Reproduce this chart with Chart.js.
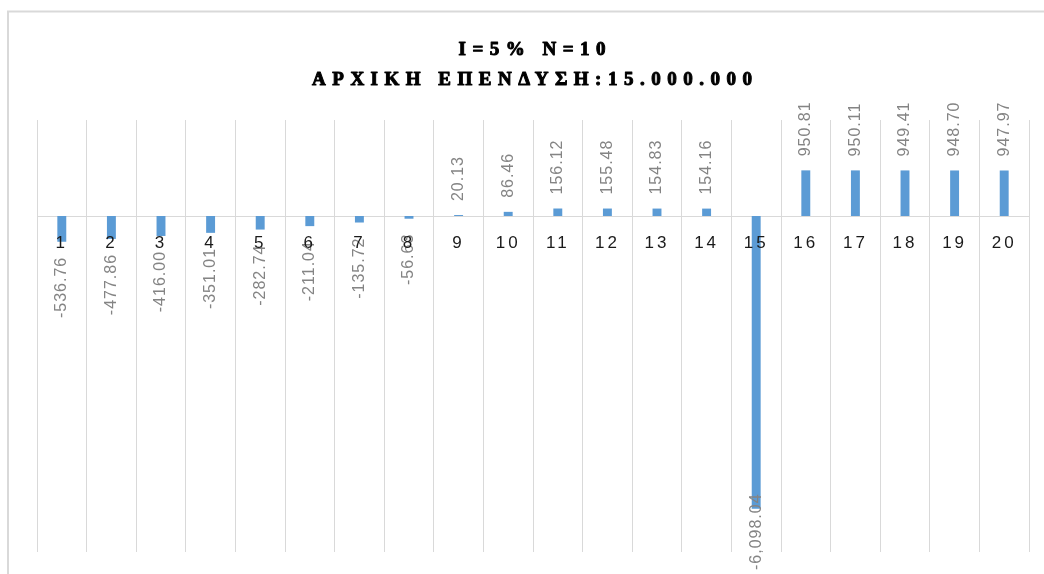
<!DOCTYPE html>
<html>
<head>
<meta charset="utf-8">
<script src="https://cdn.jsdelivr.net/npm/chart.js@4/dist/chart.umd.min.js"></script>
<style>
  html, body { margin: 0; padding: 0; background: #ffffff; }
  #wrap { width: 1044px; height: 574px; position: relative; }
</style>
</head>
<body>
<div id="wrap"><canvas id="c" width="1044" height="574"></canvas></div>
<script>
// Chart title lines
const titleLines = ['I=5% N=10', 'ΑΡΧΙΚΗ ΕΠΕΝΔΥΣΗ:15.000.000'];

// Periods (category axis)
const periods = ['1', '2', '3', '4', '5', '6', '7', '8', '9', '10',
                 '11', '12', '13', '14', '15', '16', '17', '18', '19', '20'];

// Yearly values
const values = [-536.76, -477.86, -416.00, -351.01, -282.74, -211.04, -135.72, -56.63,
                20.13, 86.46, 156.12, 155.48, 154.83, 154.16,
                -6098.04, 950.81, 950.11, 949.41, 948.70, 947.97];

const BAR_COLOR = '#5B9BD5';
const GRID_COLOR = '#d9d9d9';

function fmt(v) {
  return v.toLocaleString('en-US', { minimumFractionDigits: 2, maximumFractionDigits: 2 });
}

// Outer frame and spaced title
const framePlugin = {
  id: 'frame',
  beforeDraw(chart) {
    const ctx = chart.ctx;
    ctx.save();
    ctx.strokeStyle = '#d9d9d9';
    ctx.lineWidth = 2;
    ctx.beginPath();
    ctx.moveTo(8, chart.height);
    ctx.lineTo(8, 11.5);
    ctx.lineTo(chart.width, 11.5);
    ctx.stroke();
    ctx.restore();
    // category labels are drawn with extra tracking
    ctx.letterSpacing = '3px';
  },
  afterDraw(chart) {
    const ctx = chart.ctx;
    ctx.save();
    const sp = 6.5;
    ctx.letterSpacing = sp + 'px';
    ctx.fillStyle = '#000000';
    ctx.strokeStyle = '#000000';
    ctx.lineWidth = 1;
    ctx.lineJoin = 'round';
    ctx.font = '700 19px "Liberation Serif", "Times New Roman", serif';
    ctx.textAlign = 'left';
    ctx.textBaseline = 'alphabetic';
    const cx = 532;
    const baselines = [55, 85];
    titleLines.forEach((t, i) => {
      const w = ctx.measureText(t).width - sp;
      ctx.fillText(t, cx - w / 2, baselines[i]);
      ctx.strokeText(t, cx - w / 2, baselines[i]);
    });
    ctx.restore();
    ctx.letterSpacing = '0px';
  }
};

// Rotated value labels at the end of each bar
const valueLabels = {
  id: 'valueLabels',
  afterDatasetsDraw(chart) {
    const ctx = chart.ctx;
    const meta = chart.getDatasetMeta(0);
    const data = chart.data.datasets[0].data;
    ctx.save();
    ctx.letterSpacing = '1px';
    ctx.font = '16px "Liberation Sans", Arial, sans-serif';
    ctx.fillStyle = '#848484';
    ctx.textBaseline = 'middle';
    meta.data.forEach((bar, i) => {
      const v = data[i];
      const txt = fmt(v);
      const w = ctx.measureText(txt).width;
      ctx.save();
      if (v >= 0) {
        ctx.translate(bar.x, bar.y - 14);
        ctx.rotate(-Math.PI / 2);
        ctx.textAlign = 'left';
        ctx.fillText(txt, 0, 0);
      } else {
        let top = bar.y + 15;
        const limit = chart.height - 4;
        if (top + w > limit) top = limit - w;
        ctx.translate(bar.x, top);
        ctx.rotate(-Math.PI / 2);
        ctx.textAlign = 'right';
        ctx.fillText(txt, 0, 0);
      }
      ctx.restore();
    });
    ctx.restore();
  }
};

new Chart(document.getElementById('c'), {
  type: 'bar',
  data: {
    labels: periods,
    datasets: [{
      data: values,
      backgroundColor: BAR_COLOR,
      borderWidth: 0,
      categoryPercentage: 1.0,
      barPercentage: 0.18
    }]
  },
  options: {
    responsive: false,
    animation: false,
    devicePixelRatio: 1,
    layout: { padding: { left: 37, right: 15, top: 120, bottom: 22 } },
    plugins: {
      legend: { display: false },
      title: { display: false },
      tooltip: { enabled: false }
    },
    scales: {
      x: {
        position: { y: 0 },
        offset: true,
        grid: {
          offset: true,
          color: GRID_COLOR,
          lineWidth: 1,
          drawTicks: false
        },
        border: { display: true, color: GRID_COLOR, width: 1 },
        ticks: {
          z: 1,
          autoSkip: false,
          maxRotation: 0,
          minRotation: 0,
          padding: 17,
          color: '#1a1a1a',
          font: { family: '"Liberation Sans", Arial, sans-serif', size: 17 }
        },
        afterFit(scale) { scale.height = 0; }
      },
      y: {
        display: false,
        min: -7000,
        max: 2000
      }
    }
  },
  plugins: [framePlugin, valueLabels]
});
</script>
</body>
</html>
